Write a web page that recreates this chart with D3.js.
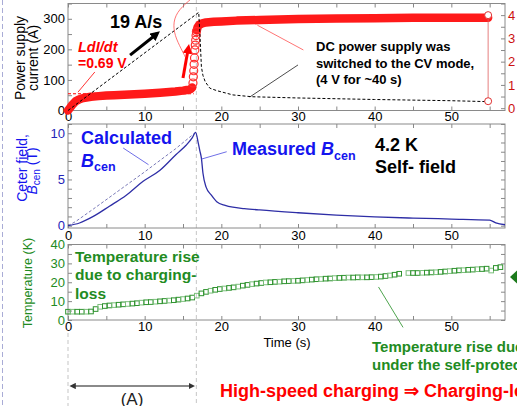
<!DOCTYPE html>
<html>
<head>
<meta charset="utf-8">
<script src="https://cdn.jsdelivr.net/npm/d3@7"></script>
<style>
  body { margin: 0; background: #fff; }
  svg { font-family: "Liberation Sans", Arial, sans-serif; }
  .axis .domain { display: none; }
  .axis line { stroke: #888; }
</style>
</head>
<body>
<svg id="chart" width="517" height="406"></svg>
<script>
const width = 517, height = 406;

// time axis (s)
const xTicks = [0, 10, 20, 30, 40, 50];
const xMinor = [0, 5, 10, 15, 20, 25, 30, 35, 40, 45, 50, 55];

// top panel: power supply current (A), red circles
const curLowT = [0, 0.3, 0.6, 1, 1.5, 2, 3, 4, 5, 6, 8, 10, 12, 14, 15, 15.5, 16, 16.2];
const curLowA = [0, 10, 20, 30, 37, 41, 45, 47, 49, 50, 52, 55, 58, 62, 65, 67, 70, 75];
const curJumpT = [16.3, 16.35, 16.4, 16.45, 16.5, 16.55, 16.6, 16.65, 16.7, 16.75];
const curJumpA = [90, 110, 130, 151, 172, 198, 214, 230, 245, 258];
const curHighT = [16.8, 16.9, 17.1, 17.5, 18, 19, 20, 22, 25, 30, 35, 40, 45, 50, 54.8];
const curHighA = [262, 272, 280, 285, 288, 290, 291, 294, 296, 299, 301, 302, 303, 303, 303.5];
// black dashed trace (A)
const dashT = [0, 17.05, 17.2, 17.4, 17.6, 17.9, 18.5, 19.4, 21.5, 24, 30, 40, 50, 54.8];
const dashA = [0, 321, 252, 143, 115, 94, 73, 65, 51, 45, 41, 36, 32, 29];
const endVolt = [4.0, 0.3];      // end markers on right axis (V)
const ldidtVolt = 0.62;          // LdI/dt level
const currentTicks = [0, 100, 200, 300];
const currentMinor = [0, 50, 100, 150, 200, 250, 300, 350];
const voltTicks = [0, 1, 2, 3, 4];
const voltMinor = [0, 0.5, 1, 1.5, 2, 2.5, 3, 3.5, 4, 4.5];

// middle panel: center field (T)
const bMeasT = [0, 1.5, 3.3, 5.4, 7.6, 9.8, 12, 14.1, 15.4, 16.2, 16.65, 17.0, 17.2, 17.4, 17.6, 18.0, 18.7, 19.4, 20.5, 21.5, 23, 25, 30, 35, 40, 45, 50, 55, 55.8, 57];
const bMeasV = [0, 0.29, 1.0, 2.1, 3.3, 4.8, 6.0, 7.7, 8.7, 9.5, 10.1, 8.9, 8.1, 7.3, 5.7, 4.2, 3.3, 2.6, 2.2, 2.0, 1.85, 1.7, 1.4, 1.15, 0.95, 0.82, 0.72, 0.6, 0.3, 0.1];
const bCalcT = [0, 1, 3.3, 9.8, 14, 16.65];
const bCalcV = [0, 0.45, 1.8, 5.7, 8.3, 10.1];
const fieldTicks = [0, 5, 10];
const fieldMinor = [0, 1, 2, 3, 4, 5, 6, 7, 8, 9, 10, 11];

// bottom panel: temperature (K), green squares
const tempT = [0, 0.6, 1.2, 1.8, 2.4, 3.0, 3.6, 4.2, 4.8, 5.4, 6.0, 6.6, 7.2, 7.8, 8.4, 9.0, 9.6, 10.2, 10.8, 11.4,
  12.0, 12.6, 13.2, 13.8, 14.4, 15.0, 15.6, 16.2, 16.8, 17.4, 18.0, 18.6, 19.2, 19.8, 20.4, 21.0, 21.6, 22.2, 22.8, 23.4,
  24.0, 24.6, 25.2, 25.8, 26.4, 27.0, 27.6, 28.2, 28.8, 29.4, 30.0, 30.6, 31.2, 31.8, 32.4, 33.0, 33.6, 34.2, 34.8, 35.4,
  36.0, 36.6, 37.2, 37.8, 38.4, 39.0, 39.6, 40.2, 40.8, 41.4, 42.0, 42.6, 43.2, 44.4, 45.0, 45.6, 46.2, 46.8, 47.4, 48.0,
  48.6, 49.2, 49.8, 50.4, 51.0, 51.6, 52.2, 52.8, 53.4, 54.0, 54.6, 55.2, 55.8, 56.4];
const tempK = [4.4, 4.4, 4.4, 4.4, 4.4, 4.5, 5.8, 7.0, 7.4, 7.7, 7.9, 8.1, 8.3, 8.5, 8.7, 8.9, 9.2, 9.4, 9.5, 9.7,
  9.9, 10.1, 10.3, 10.5, 10.8, 11.1, 11.4, 11.9, 12.9, 14.1, 14.9, 15.5, 16.0, 16.4, 16.7, 17.0, 17.3, 17.7, 18.2, 18.6,
  19.0, 19.3, 19.6, 19.9, 20.0, 20.2, 20.3, 20.5, 20.6, 20.7, 20.8, 21.0, 21.2, 21.4, 21.6, 21.7, 21.9, 22.0, 22.2, 22.3,
  22.4, 22.5, 22.5, 22.6, 22.6, 22.6, 22.7, 22.8, 23.0, 23.3, 23.6, 24.0, 24.5, 24.9, 24.9, 24.9, 25.0, 25.1, 25.2, 25.3,
  25.5, 25.7, 25.9, 26.1, 26.3, 26.4, 26.6, 26.7, 26.9, 27.0, 27.2, 26.2, 27.6, 28.0];
const tempTicks = [0, 10, 20, 30, 40];
const tempMinor = [0, 5, 10, 15, 20, 25, 30, 35, 40];

const svg = d3.select("#chart");
const blue = "#1414ee", green = "#228b22", red = "#ff0000";

// scales
const x = d3.scaleLinear().domain([0, 57]).range([68, 505]);
const yCur = d3.scaleLinear().domain([0, 350]).range([110.5, 3.5]);
const yVolt = d3.scaleLinear().domain([-0.1, 4.5]).range([110.5, 3.5]);
const yB = d3.scaleLinear().domain([-0.25, 11]).range([228, 124]);
const yT = d3.scaleLinear().domain([0, 40]).range([320, 244.5]);

// arrow heads
const defs = svg.append("defs");
function marker(id, color) {
  defs.append("marker").attr("id", id)
    .attr("viewBox", "0 0 10 10").attr("refX", 6).attr("refY", 5)
    .attr("markerWidth", 3.2).attr("markerHeight", 3.2)
    .attr("orient", "auto-start-reverse")
    .append("path").attr("d", "M0,0L10,5L0,10z").attr("fill", color);
}
marker("arrBlack", "#000");
marker("arrRed", red);
marker("arrGrey", "#333");

// slide border on the left
svg.append("line").attr("x1", 2.5).attr("x2", 2.5).attr("y1", 0).attr("y2", height)
  .attr("stroke", "#a9acd6").attr("stroke-dasharray", "5,3");

// vertical guide lines
svg.append("line").attr("x1", x(16.75)).attr("x2", x(16.75)).attr("y1", 0).attr("y2", height)
  .attr("stroke", "#cfcfcf").attr("stroke-width", 1.2).attr("stroke-dasharray", "4,3");
svg.append("line").attr("x1", x(0)).attr("x2", x(0)).attr("y1", 333).attr("y2", height)
  .attr("stroke", "#cfcfcf").attr("stroke-width", 1.2).attr("stroke-dasharray", "4,3");

// panel frame + mirrored ticks
function panel(yScale, yTicks, yMinor, labelColor, padBottom) {
  const [yb, yt] = yScale.range();
  const g = svg.append("g");
  g.append("rect").attr("x", x(0)).attr("y", yt).attr("width", x(57) - x(0)).attr("height", yb - yt)
    .attr("fill", "none").attr("stroke", "#8a8a8a");
  g.append("g").attr("class", "axis").attr("transform", `translate(0,${yb})`)
    .call(d3.axisBottom(x).tickValues(xMinor).tickSize(-4).tickPadding(padBottom)
      .tickFormat(d => xTicks.includes(d) ? d : ""))
    .selectAll("text").attr("fill", "#000").attr("font-size", 13);
  g.append("g").attr("class", "axis").attr("transform", `translate(0,${yt})`)
    .call(d3.axisTop(x).tickValues(xMinor).tickSize(-4).tickFormat(""));
  g.append("g").attr("class", "axis").attr("transform", `translate(${x(0)},0)`)
    .call(d3.axisLeft(yScale).tickValues(yMinor).tickSize(-4).tickPadding(3)
      .tickFormat(d => yTicks.includes(d) ? d : ""))
    .selectAll("text").attr("fill", labelColor).attr("font-size", 13);
  g.selectAll(".axis text").attr("font-family", null);
  return g;
}

panel(yCur, currentTicks, currentMinor, "#000", 1);
panel(yB, fieldTicks, fieldMinor, "#2424b8", 3);
panel(yT, tempTicks, tempMinor, green, 2);

// right axes
svg.append("g").attr("class", "axis").attr("transform", `translate(${x(57)},0)`)
  .call(d3.axisRight(yVolt).tickValues(voltMinor).tickSize(-4).tickPadding(3)
    .tickFormat(d => voltTicks.includes(d) ? d : ""))
  .selectAll("text").attr("fill", "#cc1111").attr("font-size", 13).attr("font-family", null);
svg.append("g").attr("class", "axis").attr("transform", `translate(${x(57)},0)`)
  .call(d3.axisRight(yB).tickValues(fieldMinor).tickSize(-4).tickFormat(""));
svg.append("g").attr("class", "axis").attr("transform", `translate(${x(57)},0)`)
  .call(d3.axisRight(yT).tickValues(tempMinor).tickSize(-4).tickFormat(""));

// ---------- top panel data ----------
const lineCur = d3.line().x(d => x(d[0])).y(d => yCur(d[1]));

svg.append("line")
  .attr("x1", x(0)).attr("x2", x(16.4))
  .attr("y1", yVolt(ldidtVolt)).attr("y2", yVolt(ldidtVolt))
  .attr("stroke", red).attr("stroke-width", 1).attr("stroke-dasharray", "3,2");

svg.append("path").datum(d3.zip(curLowT, curLowA))
  .attr("d", lineCur).attr("fill", "none").attr("stroke", "#ff1a1a")
  .attr("stroke-width", 8.5).attr("stroke-linecap", "round").attr("stroke-linejoin", "round");
svg.append("path").datum(d3.zip(curHighT, curHighA))
  .attr("d", lineCur).attr("fill", "none").attr("stroke", "#ff1a1a")
  .attr("stroke-width", 8.5).attr("stroke-linecap", "round").attr("stroke-linejoin", "round");
svg.append("g").selectAll("circle").data(d3.zip(curJumpT, curJumpA)).enter()
  .append("circle").attr("cx", d => x(d[0])).attr("cy", d => yCur(d[1])).attr("r", 4)
  .attr("fill", "none").attr("stroke", "#ff3030").attr("stroke-width", 1.2);

svg.append("path").datum(d3.zip(dashT, dashA))
  .attr("d", lineCur).attr("fill", "none").attr("stroke", "#000")
  .attr("stroke-width", 1).attr("stroke-dasharray", "3,2");

// end markers
const tEnd = curHighT[curHighT.length - 1];
svg.append("line").attr("x1", x(tEnd)).attr("x2", x(tEnd))
  .attr("y1", yVolt(endVolt[0])).attr("y2", yVolt(endVolt[1])).attr("stroke", "#e06060").attr("stroke-width", 0.8);
svg.selectAll(".endpt").data(endVolt).enter().append("circle")
  .attr("cx", x(tEnd)).attr("cy", d => yVolt(d)).attr("r", 3.5)
  .attr("fill", "#fff").attr("stroke", "#e03030").attr("stroke-width", 1);

// annotations (data coordinates)
function seg(x1, y1, x2, y2, ys, color, w, mk) {
  const l = svg.append("line").attr("x1", x(x1)).attr("y1", ys(y1)).attr("x2", x(x2)).attr("y2", ys(y2))
    .attr("stroke", color).attr("stroke-width", w);
  if (mk) l.attr("marker-end", `url(#${mk})`);
  return l;
}
seg(1.3, 60, 3.5, 126, yCur, red, 0.8);
seg(8.1, 181, 11.6, 251, yCur, "#000", 3, "arrBlack");
seg(15.0, 106, 15.7, 205, yCur, red, 3, "arrRed");
seg(24.7, 279, 30.7, 198, yCur, "#ff5050", 0.8);
seg(30.0, 149, 23.7, 44, yCur, "#000", 0.7);
svg.append("path")
  .datum([[16.4, 372], [14.4, 330], [13.7, 290], [13.9, 245], [14.8, 200], [15.3, 175]])
  .attr("d", d3.line().x(d => x(d[0])).y(d => yCur(d[1])).curve(d3.curveBasis))
  .attr("fill", "none").attr("stroke", "#ff5050").attr("stroke-width", 0.8);

svg.append("text").attr("x", 110).attr("y", 28).attr("font-size", 18).attr("font-weight", "bold").text("19 A/s");
svg.append("text").attr("x", 78).attr("y", 52).attr("font-size", 14.5).attr("font-weight", "bold")
  .attr("font-style", "italic").attr("fill", red).text("LdI/dt");
svg.append("text").attr("x", 78).attr("y", 68).attr("font-size", 14).attr("font-weight", "bold")
  .attr("fill", red).text("=0.69 V");
const dc = svg.append("text").attr("font-size", 13).attr("font-weight", "bold");
["DC power supply was", "switched to the CV mode,", "(4 V for ~40 s)"].forEach((s, i) =>
  dc.append("tspan").attr("x", 316).attr("y", 51 + i * 16.5).text(s));

// axis titles
svg.append("text").attr("transform", "translate(25,58) rotate(-90)").attr("text-anchor", "middle")
  .attr("font-size", 14).text("Power supply");
svg.append("text").attr("transform", "translate(38,58) rotate(-90)").attr("text-anchor", "middle")
  .attr("font-size", 14).text("current (A)");

// ---------- middle panel ----------
const lineB = d3.line().x(d => x(d[0])).y(d => yB(d[1]));
svg.append("path").datum(d3.zip(bCalcT, bCalcV)).attr("d", lineB)
  .attr("fill", "none").attr("stroke", "#7a7ab8").attr("stroke-width", 1).attr("stroke-dasharray", "3,2");
svg.append("path").datum(d3.zip(bMeasT, bMeasV)).attr("d", lineB.curve(d3.curveMonotoneX))
  .attr("fill", "none").attr("stroke", "#2e2ea6").attr("stroke-width", 1.3);

seg(7.2, 8.4, 10.5, 6.6, yB, "#4a4ae0", 0.8);
seg(17.4, 7.2, 20.7, 8.0, yB, "#4a4ae0", 0.8);

svg.append("text").attr("x", 81).attr("y", 143.5).attr("font-size", 18).attr("font-weight", "bold")
  .attr("fill", blue).text("Calculated");
const bc = svg.append("text").attr("x", 81).attr("y", 166.5).attr("font-size", 18).attr("font-weight", "bold").attr("fill", blue);
bc.append("tspan").attr("font-style", "italic").text("B");
bc.append("tspan").attr("font-size", 12.5).attr("dy", 4.5).text("cen");
const mb = svg.append("text").attr("x", 232).attr("y", 155).attr("font-size", 18).attr("font-weight", "bold").attr("fill", blue);
mb.append("tspan").text("Measured ");
mb.append("tspan").attr("font-style", "italic").text("B");
mb.append("tspan").attr("font-size", 12.5).attr("dy", 4.5).text("cen");
svg.append("text").attr("x", 375).attr("y", 151).attr("font-size", 18).attr("font-weight", "bold").text("4.2 K");
svg.append("text").attr("x", 375).attr("y", 173).attr("font-size", 18).attr("font-weight", "bold").text("Self- field");

svg.append("text").attr("transform", "translate(27,168) rotate(-90)").attr("text-anchor", "middle")
  .attr("font-size", 14).attr("fill", blue).text("Ceter field,");
const bt = svg.append("text").attr("transform", "translate(37,171) rotate(-90)").attr("text-anchor", "middle")
  .attr("font-size", 14).attr("fill", blue);
bt.append("tspan").attr("font-style", "italic").text("B");
bt.append("tspan").attr("font-size", 10).attr("dy", 3).text("cen");
bt.append("tspan").attr("dy", -3).text(" (T)");

// ---------- bottom panel ----------
const sq = 4.6;
svg.append("g").selectAll("rect").data(d3.zip(tempT, tempK)).enter()
  .append("rect")
  .attr("x", d => x(d[0]) - sq / 2).attr("y", d => yT(d[1]) - sq / 2)
  .attr("width", sq).attr("height", sq)
  .attr("fill", "none").attr("stroke", (d, i) => i % 3 === 1 ? "#7cbf7c" : "#2f932f").attr("stroke-width", 1);

seg(40.5, 17.5, 43.7, -3.9, yT, "#3a9a3a", 0.9);

const tr = svg.append("text").attr("font-size", 15.5).attr("font-weight", "bold").attr("fill", green);
["Temperature rise", "due to charging-", "loss"].forEach((s, i) =>
  tr.append("tspan").attr("x", 75).attr("y", 262 + i * 18.3).text(s));

svg.append("text").attr("transform", "translate(32,283) rotate(-90)").attr("text-anchor", "middle")
  .attr("font-size", 12.5).attr("fill", green).text("Temperature (K)");

svg.append("path").attr("d", "M510,277L518,269.5L518,284.5Z").attr("fill", "#1c7a1c");

svg.append("text").attr("x", 287).attr("y", 347).attr("text-anchor", "middle").attr("font-size", 13).text("Time (s)");

const tr2 = svg.append("text").attr("font-size", 15).attr("font-weight", "bold").attr("fill", green);
["Temperature rise due to charging-loss", "under the self-protection"].forEach((s, i) =>
  tr2.append("tspan").attr("x", 372).attr("y", 352 + i * 17.5).text(s));

// (A) range arrow
svg.append("line").attr("x1", x(0) + 4).attr("x2", x(16.75) - 4).attr("y1", 386).attr("y2", 386)
  .attr("stroke", "#8a8a8a").attr("stroke-width", 2)
  .attr("marker-start", "url(#arrGrey)").attr("marker-end", "url(#arrGrey)");
svg.append("text").attr("x", 132).attr("y", 405).attr("text-anchor", "middle").attr("font-size", 17)
  .attr("fill", "#222").text("(A)");

svg.append("text").attr("x", 220).attr("y", 397).attr("font-size", 18).attr("font-weight", "bold")
  .attr("fill", red).text("High-speed charging \u21d2 Charging-loss");
</script>
</body>
</html>
